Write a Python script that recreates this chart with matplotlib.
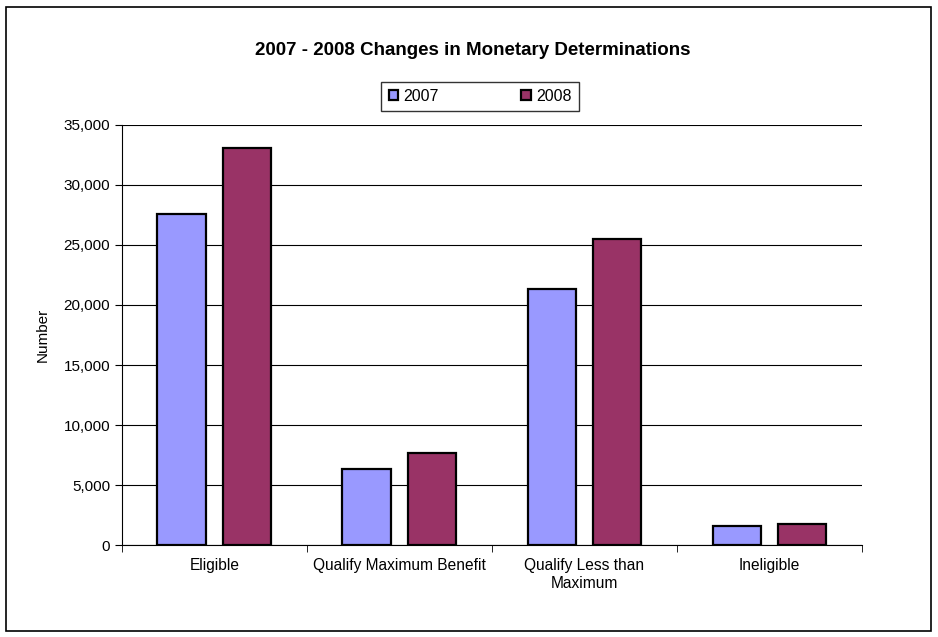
import matplotlib.pyplot as plt
import numpy as np
from matplotlib.patches import Rectangle
from matplotlib.ticker import FuncFormatter

plt.rcParams['font.family'] = ['Liberation Sans', 'DejaVu Sans']

categories = ["Eligible", "Qualify Maximum Benefit", "Qualify Less than\nMaximum", "Ineligible"]
values_2007 = [27600, 6300, 21300, 1600]
values_2008 = [33100, 7650, 25500, 1780]

fig = plt.figure(figsize=(9.38, 6.37), dpi=100)
# outer chart border
fig.patches.append(Rectangle((6 / 938, 6 / 637), 925 / 938, 624 / 637, transform=fig.transFigure,
                             fill=False, edgecolor='black', linewidth=1.2))

ax = fig.add_axes([0.130, 0.1444, 0.789, 0.6594])

x = np.arange(len(categories))
w = 0.26
b1 = ax.bar(x - 0.178, values_2007, w, color='#9999FF', edgecolor='black', linewidth=1.6, label='2007', zorder=3)
b2 = ax.bar(x + 0.178, values_2008, w, color='#993366', edgecolor='black', linewidth=1.6, label='2008', zorder=3)

ax.set_xlim(-0.5, 3.5)
ax.set_ylim(0, 35000)
ax.set_yticks(np.arange(0, 35001, 5000))
ax.yaxis.set_major_formatter(FuncFormatter(lambda v, p: f"{int(v):,}"))
ax.grid(axis='y', color='black', linewidth=0.8, zorder=0)

ax.set_xticks(x)
ax.set_xticklabels(categories, fontsize=11.2, linespacing=1.25)
ax.set_xticks(np.arange(-0.5, 3.6, 1), minor=True)
ax.tick_params(axis='x', which='major', length=0, pad=9)
ax.tick_params(axis='x', which='minor', length=5, direction='out', color='black')
ax.tick_params(axis='y', length=5, labelsize=11, direction='out')

for s in ['top', 'right']:
    ax.spines[s].set_visible(False)
ax.spines['left'].set_linewidth(0.8)
ax.spines['bottom'].set_linewidth(0.8)

ax.set_ylabel("Number", fontsize=11, labelpad=10)

fig.text(0.5045, 0.921, "2007 - 2008 Changes in Monetary Determinations", ha='center', va='center',
         fontsize=13.5, fontweight='bold')

leg = fig.legend(handles=[b1, b2], loc='center', bbox_to_anchor=(0.5117, 0.8485), ncol=2,
                 fontsize=11.5, frameon=True, fancybox=False, edgecolor='black',
                 handlelength=0.6, handleheight=0.6, columnspacing=5.2, handletextpad=0.3,
                 borderpad=0.45, borderaxespad=0)
leg.get_frame().set_linewidth(1.0)

plt.savefig("out.png", dpi=100)
